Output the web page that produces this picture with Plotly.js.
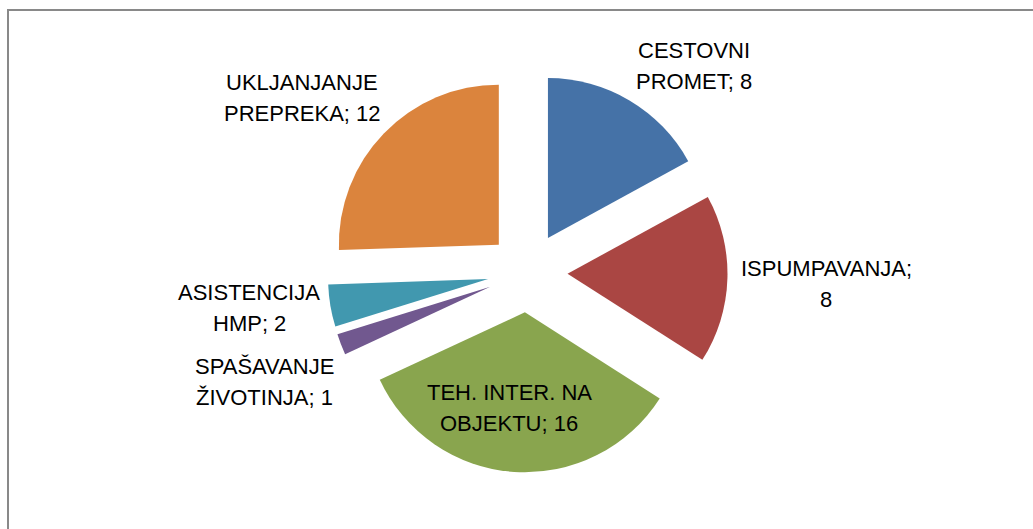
<!DOCTYPE html>
<html>
<head>
<meta charset="utf-8">
<script src="https://cdn.plot.ly/plotly-3.0.1.min.js"></script>
<style>
  html, body { margin: 0; padding: 0; background: #ffffff; }
  #chart { width: 1033px; height: 529px; }
</style>
</head>
<body>
<div id="chart"></div>
<script>
// ---- data ----
var categories = ["CESTOVNI PROMET", "ISPUMPAVANJA", "TEH. INTER. NA OBJEKTU",
                  "SPAŠAVANJE ŽIVOTINJA", "ASISTENCIJA HMP", "UKLJANJANJE PREPREKA"];
var values = [8, 8, 16, 1, 2, 12];
var colors = ["#4572A7", "#AA4643", "#89A54E", "#71588F", "#4198AF", "#DB843D"];

// ---- label placement (pixel centres in the 1033x529 page) ----
var labelPos = [[694, 66], [826, 284], [509, 408], [264, 382], [249, 308], [302, 98]];
var lineGap = 31;

var W = 1033, H = 529;

function wrapLines(s, maxChars) {
  var words = s.split(" "), lines = [], cur = "";
  words.forEach(function (w) {
    if (cur === "") cur = w;
    else if ((cur + " " + w).length <= maxChars) cur += " " + w;
    else { lines.push(cur); cur = w; }
  });
  if (cur) lines.push(cur);
  return lines;
}

var annotations = [];
categories.forEach(function (c, i) {
  var lines = wrapLines(c + "; " + values[i], 14);
  var n = lines.length;
  lines.forEach(function (ln, k) {
    var py = labelPos[i][1] + (k - (n - 1) / 2) * lineGap;
    annotations.push({
      xref: "paper", yref: "paper",
      x: labelPos[i][0] / W, y: 1 - py / H,
      xanchor: "center", yanchor: "middle",
      text: ln,
      showarrow: false, align: "center",
      font: { family: "Liberation Sans, Arial, sans-serif", size: 22, color: "#000000" }
    });
  });
});

var trace = {
  type: "pie",
  labels: categories,
  values: values,
  sort: false,
  direction: "clockwise",
  rotation: 0,
  pull: values.map(function () { return 0.25; }),
  marker: { colors: colors, line: { width: 0 } },
  textinfo: "none",
  showlegend: false,
  domain: { x: [0.0214, 1], y: [0.107, 0.863] }
};

var layout = {
  width: W, height: H,
  margin: { l: 0, r: 0, t: 0, b: 0 },
  paper_bgcolor: "#ffffff",
  showlegend: false,
  annotations: annotations,
  shapes: [
    { type: "line", xref: "paper", yref: "paper", x0: 8 / W, x1: 8 / W, y0: 0, y1: 1 - 9 / H,
      line: { color: "#898989", width: 2 } },
    { type: "line", xref: "paper", yref: "paper", x0: 7 / W, x1: 1, y0: 1 - 10 / H, y1: 1 - 10 / H,
      line: { color: "#898989", width: 2 } }
  ]
};

Plotly.newPlot("chart", [trace], layout, { displayModeBar: false, staticPlot: true });
</script>
</body>
</html>
